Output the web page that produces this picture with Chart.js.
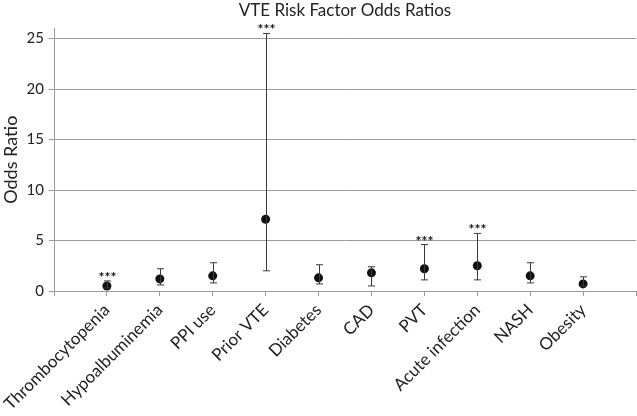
<!DOCTYPE html>
<html>
<head>
<meta charset="utf-8">
<script src="https://cdn.jsdelivr.net/npm/chart.js@4"></script>
<style>
  html, body { margin: 0; padding: 0; background: #fff; }
  #wrap { width: 637px; height: 416px; }
</style>
</head>
<body>
<div id="wrap"><canvas id="orChart"></canvas></div>
<script>
let factors = ["Thrombocytopenia", "Hypoalbuminemia", "PPI use", "Prior VTE", "Diabetes",
  "CAD", "PVT", "Acute infection", "NASH", "Obesity"];
let oddsRatios = [0.5, 1.2, 1.5, 7.1, 1.3, 1.8, 2.2, 2.5, 1.5, 0.7];
let ciLow = [0.3, 0.6, 0.8, 2.0, 0.7, 0.5, 1.1, 1.1, 0.8, 0.5];
let ciHigh = [1.0, 2.2, 2.8, 25.5, 2.6, 2.4, 4.6, 5.7, 2.8, 1.4];
let significance = ["***", "", "", "***", "", "", "***", "***", "", ""];
let yTicks = [0, 5, 10, 15, 20, 25];

// pad the category axis with an empty slot on each side
let labels = [""].concat(factors, [""]);
let points = [null].concat(oddsRatios, [null]);

const fontFamily = "Lato, 'Open Sans', sans-serif";

const errorBars = {
  id: "errorBars",
  afterDatasetsDraw(chart) {
    let c = chart.ctx;
    let xs = chart.scales.x;
    let ys = chart.scales.y;
    c.save();
    c.strokeStyle = "#3a3a3a";
    c.lineWidth = 1;
    factors.forEach((f, i) => {
      let x = Math.round(xs.getPixelForValue(i + 1)) + 0.5;
      let top = ys.getPixelForValue(ciHigh[i]);
      let bot = ys.getPixelForValue(ciLow[i]);
      c.beginPath();
      c.moveTo(x, top);
      c.lineTo(x, bot);
      c.moveTo(x - 3.5, top);
      c.lineTo(x + 3.5, top);
      c.moveTo(x - 3.5, bot);
      c.lineTo(x + 3.5, bot);
      c.stroke();
      if (significance[i]) {
        c.fillStyle = "#111";
        c.font = "bold 14px " + fontFamily;
        c.textAlign = "center";
        c.textBaseline = "alphabetic";
        c.fillText(significance[i], x, top + 1);
      }
    });
    c.restore();
  }
};

let ctx = document.getElementById("orChart").getContext("2d");

let myChart = new Chart(ctx, {
  type: "line",
  data: {
    labels: labels,
    datasets: [
      {
        label: "Odds Ratio",
        data: points,
        showLine: false,
        borderWidth: 0,
        pointRadius: (c) => (c.raw == null ? 0 : 4.5),
        pointBackgroundColor: "#111",
        pointBorderColor: "#111",
        pointBorderWidth: 0
      }
    ]
  },
  options: {
    responsive: true,
    maintainAspectRatio: false,
    animation: false,
    layout: { padding: { left: 0, right: 1, top: 0, bottom: 0 } },
    plugins: {
      legend: { display: false },
      tooltip: { enabled: false },
      title: {
        display: true,
        fullSize: false,
        text: "VTE Risk Factor Odds Ratios",
        color: "#222",
        font: { family: fontFamily, size: 17, weight: "normal" },
        padding: { top: 0, bottom: 8 }
      }
    },
    scales: {
      x: {
        offset: false,
        grid: {
          drawOnChartArea: false,
          drawTicks: true,
          tickLength: 5,
          color: "#9a9a9a"
        },
        border: { color: "#9a9a9a" },
        ticks: {
          autoSkip: false,
          minRotation: 45,
          maxRotation: 45,
          padding: 4,
          color: "#222",
          font: { family: fontFamily, size: 17 }
        },
        afterFit: (s) => {
          s.height = 125;
          s.paddingLeft = 0;
          s.paddingRight = 0;
        }
      },
      y: {
        min: 0,
        max: 26,
        afterBuildTicks: (s) => { s.ticks = yTicks.map(v => ({ value: v })); },
        grid: {
          color: "#9a9a9a",
          tickLength: 5
        },
        border: { color: "#9a9a9a" },
        ticks: {
          padding: 5,
          color: "#222",
          font: { family: fontFamily, size: 15 }
        },
        title: {
          display: true,
          text: "Odds Ratio",
          color: "#222",
          font: { family: fontFamily, size: 18 },
          padding: { top: 0, bottom: 4 }
        },
        afterFit: (s) => {
          s.width = 54;
          s.paddingTop = 0;
          s.paddingBottom = 0;
        }
      }
    }
  },
  plugins: [errorBars]
});
</script>
</body>
</html>
